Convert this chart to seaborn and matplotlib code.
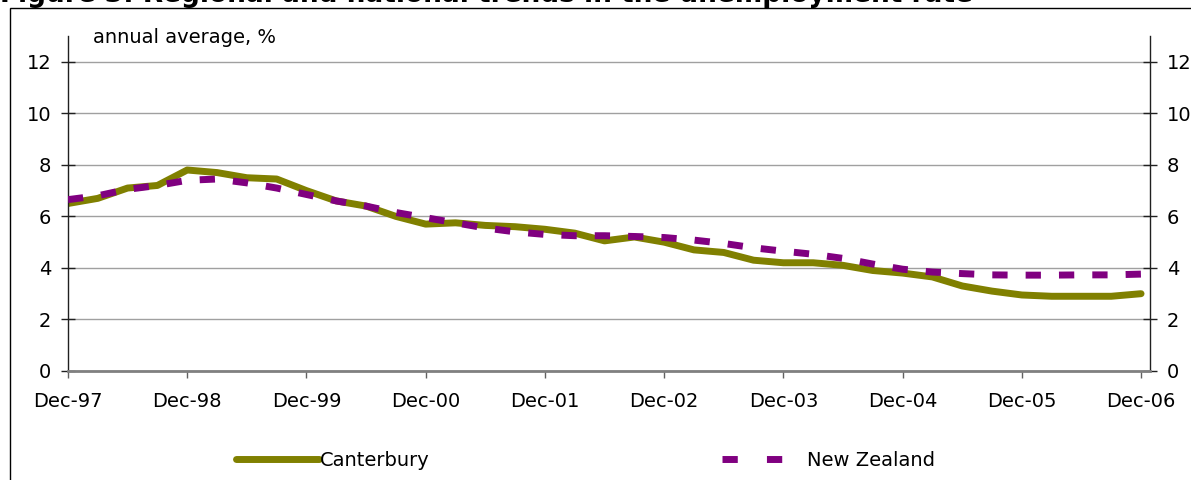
import numpy as np
import pandas as pd
import matplotlib
matplotlib.use("Agg")
import matplotlib.pyplot as plt
import seaborn as sns
from matplotlib.patches import Rectangle
from matplotlib.lines import Line2D

# quarterly annual-average unemployment rate, Dec-97 .. Dec-06
canterbury = [6.5, 6.7, 7.1, 7.2, 7.8, 7.7, 7.5, 7.45, 7.0, 6.6, 6.4, 6.0,
              5.7, 5.75, 5.65, 5.6, 5.5, 5.35, 5.05, 5.2, 5.0, 4.7, 4.6, 4.3,
              4.2, 4.2, 4.1, 3.9, 3.8, 3.65, 3.3, 3.1, 2.95, 2.9, 2.9, 2.9, 3.0]
new_zealand = [6.65, 6.8, 7.05, 7.2, 7.4, 7.45, 7.3, 7.1, 6.85, 6.6, 6.4, 6.15,
               5.95, 5.75, 5.55, 5.4, 5.3, 5.25, 5.25, 5.22, 5.18, 5.08, 4.95, 4.78,
               4.65, 4.53, 4.37, 4.15, 3.95, 3.84, 3.78, 3.73, 3.72, 3.72, 3.73, 3.73, 3.76]
year_labels = ['Dec-97', 'Dec-98', 'Dec-99', 'Dec-00', 'Dec-01',
               'Dec-02', 'Dec-03', 'Dec-04', 'Dec-05', 'Dec-06']

df = pd.DataFrame({'quarter': np.arange(len(canterbury)),
                   'Canterbury': canterbury,
                   'New Zealand': new_zealand})

sns.set_style("white")
plt.rcParams['font.family'] = ['DejaVu Sans']
plt.rcParams['text.color'] = 'black'
FS = 14

fig = plt.figure(figsize=(11.91, 4.8), dpi=100)
ax = fig.add_axes([68 / 1191, 1 - 371 / 480, (1150 - 68) / 1191, (371 - 36) / 480])

sns.lineplot(data=df, x='quarter', y='New Zealand', ax=ax, color='#800080',
             linewidth=5, label='New Zealand')
sns.lineplot(data=df, x='quarter', y='Canterbury', ax=ax, color='#808000',
             linewidth=5, label='Canterbury')
nz_line, cant_line = ax.get_lines()[0], ax.get_lines()[1]
nz_line.set_dashes((2.2, 2.6))
nz_line.set_dash_capstyle('butt')
nz_line.set_zorder(3)
cant_line.set_zorder(2)
cant_line.set_solid_capstyle('round')
ax.legend_.remove()

ax.set_xlim(0, 36.3)
ax.set_ylim(0, 13)
ax.set_yticks(range(0, 13, 2))
ax.set_xticks(range(0, 37, 4))
ax.set_xticklabels(year_labels)
ax.set_xlabel('')
ax.set_ylabel('')

ax.yaxis.grid(True, color='#a0a0a0', linewidth=1)
ax.xaxis.grid(False)
ax.set_axisbelow(True)

for side in ['left', 'right', 'bottom']:
    ax.spines[side].set_visible(True)
    ax.spines[side].set_color('#202020')
    ax.spines[side].set_linewidth(1)
ax.spines['bottom'].set_color('#808080')
ax.spines['bottom'].set_linewidth(2)
ax.spines['top'].set_visible(False)

ax.tick_params(axis='y', which='both', direction='inout', length=10, width=1,
               left=True, right=True, labelleft=True, labelright=True,
               labelsize=FS, pad=7, colors='#202020', labelcolor='black')
ax.tick_params(axis='x', direction='out', length=5, width=1, bottom=True,
               labelsize=FS, pad=10, colors='#606060', labelcolor='black')

ax.text(0.023, 0.997, 'annual average, %', transform=ax.transAxes,
        fontsize=FS, va='center', ha='left', color='black')

# legends
cant_handle = Line2D([], [], color='#808000', linewidth=5, solid_capstyle='round')
nz_handle = Line2D([], [], color='#800080', linewidth=5, dashes=(2.2, 4.2),
                   dash_capstyle='butt')
leg1 = fig.legend(handles=[cant_handle], labels=['Canterbury'], loc='center left',
                  bbox_to_anchor=(218 / 1191, 1 - 460 / 480), frameon=False,
                  fontsize=FS, handlelength=4.3, handletextpad=0.05)
leg2 = fig.legend(handles=[nz_handle], labels=['New Zealand'], loc='center left',
                  bbox_to_anchor=(704 / 1191, 1 - 460 / 480), frameon=False,
                  fontsize=FS, handlelength=3.1, handletextpad=1.3)
for leg in (leg1, leg2):
    for t in leg.get_texts():
        t.set_color('black')

# outer frame and clipped title
fig.patches.append(Rectangle((10 / 1191, -0.05), 1.1, 1 - 8 / 480 + 0.05,
                             transform=fig.transFigure, fill=False,
                             edgecolor='black', linewidth=1))
fig.text(0.0, 1 - 2 / 480, 'Figure 3: Regional and national trends in the unemployment rate',
         fontsize=19, fontweight='bold', va='baseline', ha='left', color='black')

fig.savefig('out.png', dpi=100)
